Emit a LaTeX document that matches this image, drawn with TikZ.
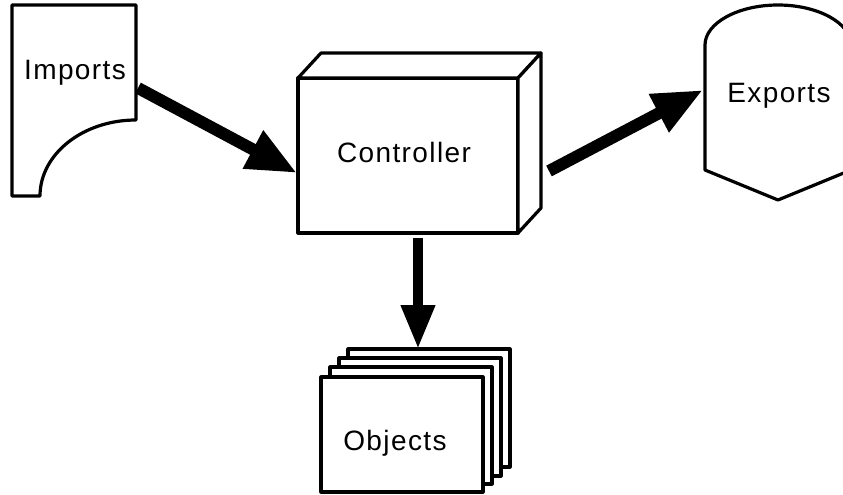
\documentclass[tikz,border=0pt]{standalone}
\usepackage{fontspec}
\setmainfont{Liberation Sans}
\usetikzlibrary{arrows.meta}
\begin{document}
\begin{tikzpicture}[x=1pt,y=-1pt,
  outline/.style={line width=3.2pt, line join=round, fill=white},
  lbl/.style={font=\fontsize{28}{30}\selectfont\addfontfeatures{LetterSpace=5}, anchor=base, inner sep=0pt},
  bigarrow/.style={line width=12pt, -{Triangle[length=50pt,width=40pt]}},
  downarrow/.style={line width=10pt, -{Triangle[length=44pt,width=32pt]}}]
\useasboundingbox (0,0) rectangle (843,495);
\clip (0,0) rectangle (843,495);

% Imports (punched card shape)
\draw[outline] (12,5) -- (136,5) -- (136,120) .. controls (83,120) and (40,154) .. (40,196) -- (12,196) -- cycle;
\node[lbl] (imports) at (75,79) {Imports};

% Controller (3D box)
\draw[outline] (298,78) rectangle (518,233);
\draw[outline] (298,78) -- (321,53) -- (541,53) -- (518,78) -- cycle;
\draw[outline] (518,78) -- (541,53) -- (541,208) -- (518,233) -- cycle;
\node[lbl] (controller) at (404,162) {Controller};

% Exports (display shape)
\draw[outline] (705,45) .. controls (705,23) and (738,5) .. (778,5) .. controls (818,5) and (851,23) .. (851,45)
  -- (851,170) -- (778,200) -- (705,170) -- cycle;
\node[lbl] (exports) at (779,102) {Exports};

% Objects (stack of sheets)
\draw[outline] (348,349) rectangle (510,467);
\draw[outline] (339,358) rectangle (501,476);
\draw[outline] (330,367) rectangle (492,484);
\draw[outline] (321,377) rectangle (483,492);
\node[lbl] (objects) at (395,450) {Objects};

% connector end points
\coordinate (impOut) at (138,88);
\coordinate (ctlIn) at (297,173);
\coordinate (ctlOut) at (549,171);
\coordinate (expIn) at (703,90);
\coordinate (ctlDown) at (418,238);
\coordinate (objIn) at (418,349);

\draw[bigarrow] (impOut) -- (ctlIn);
\draw[bigarrow] (ctlOut) -- (expIn);
\draw[downarrow] (ctlDown) -- (objIn);
\end{tikzpicture}
\end{document}
